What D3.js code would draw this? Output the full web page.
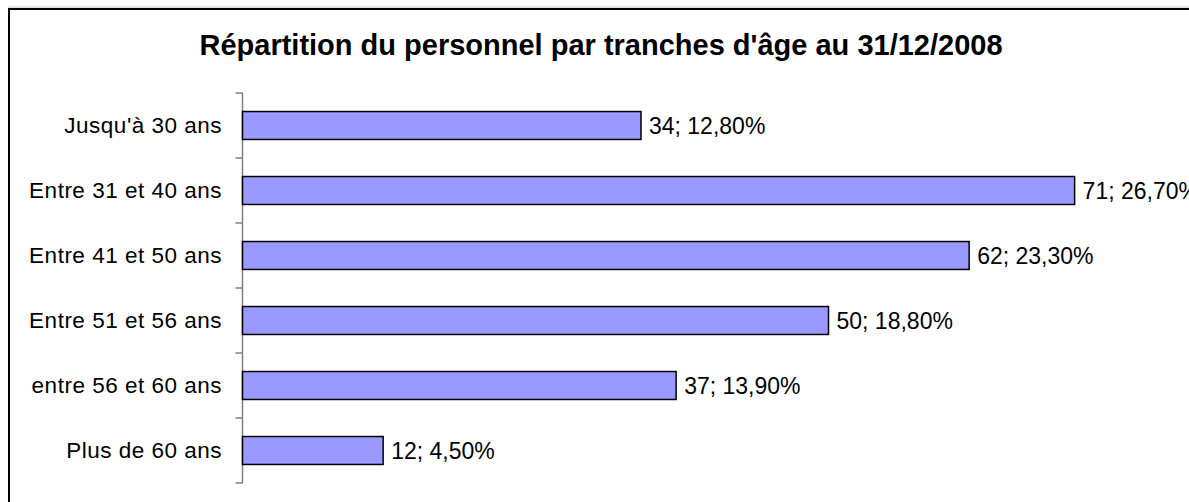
<!doctype html>
<title>Répartition du personnel par tranches d'âge</title>
<script src="https://cdn.jsdelivr.net/npm/d3@7"></script>
<style>
body, html {
  margin: 0;
  background: #fff;
}
svg { display: block; font-family: "Liberation Sans", Arial, sans-serif; }
</style>
<div id="chart"></div>
<script>
// data
var categories = ["Jusqu'à 30 ans", "Entre 31 et 40 ans", "Entre 41 et 50 ans", "Entre 51 et 56 ans", "entre 56 et 60 ans", "Plus de 60 ans"];
var counts = [34, 71, 62, 50, 37, 12];
var percents = ["12,80%", "26,70%", "23,30%", "18,80%", "13,90%", "4,50%"];
var title = "Répartition du personnel par tranches d'âge au 31/12/2008";

var width = 1189, height = 502;

var svg = d3.select("#chart").append("svg")
  .attr("width", width)
  .attr("height", height);

// chart frame (right and bottom edges fall outside the picture)
svg.append("line").attr("x1", 8).attr("x2", width).attr("y1", 7).attr("y2", 7)
  .attr("stroke", "#c8c8c8").attr("stroke-width", 1);
svg.append("path")
  .attr("d", "M9," + height + "V9H" + width)
  .attr("fill", "none").attr("stroke", "#000").attr("stroke-width", 2);

svg.append("text")
  .attr("x", 601).attr("y", 55)
  .attr("text-anchor", "middle")
  .attr("font-size", 29).attr("font-weight", "bold")
  .text(title);

var left = 242.5;
var x = d3.scaleLinear().domain([0, 80]).range([left, left + 80 * 11.72]);
var y = d3.scaleBand().domain(categories).range([93, 483]).paddingInner(0.57).paddingOuter(0.285);

// category axis: line plus tick marks between categories
var boundaries = d3.range(categories.length + 1).map(function(i) { return 93 + i * (483 - 93) / categories.length; });
var ax = svg.append("g");
ax.append("line").attr("x1", left).attr("x2", left).attr("y1", 93).attr("y2", 483)
  .attr("stroke", "#808080").attr("stroke-width", 1.5);
ax.selectAll(".tick").data(boundaries).enter().append("line")
  .attr("x1", left - 7).attr("x2", left)
  .attr("y1", function(d) { return d; }).attr("y2", function(d) { return d; })
  .attr("stroke", "#808080").attr("stroke-width", 1.5);

ax.selectAll(".lab").data(categories).enter().append("text")
  .attr("x", 222)
  .attr("y", function(d) { return y(d) + y.bandwidth() / 2; })
  .attr("dy", "0.35em")
  .attr("text-anchor", "end")
  .attr("font-size", 22.5)
  .attr("letter-spacing", 0.5)
  .text(function(d) { return d; });

svg.selectAll(".bar").data(counts).enter().append("rect")
  .attr("x", x(0))
  .attr("y", function(d, i) { return y(categories[i]); })
  .attr("width", function(d) { return x(d) - x(0); })
  .attr("height", y.bandwidth())
  .attr("fill", "#9999ff")
  .attr("stroke", "#000")
  .attr("stroke-width", 1.5);

// value labels; the longest one runs past the right edge, as in the original
svg.selectAll(".val").data(counts).enter().append("text")
  .attr("x", function(d) { return x(d) + 8; })
  .attr("y", function(d, i) { return y(categories[i]) + y.bandwidth() / 2; })
  .attr("dy", "0.35em")
  .attr("font-size", 23)
  .text(function(d, i) { return d + "; " + percents[i]; });
</script>
